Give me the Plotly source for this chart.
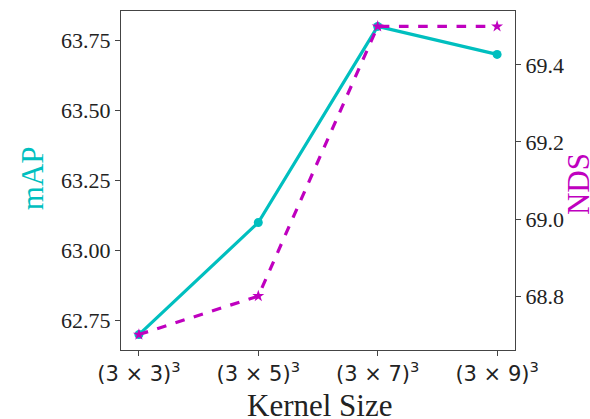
import plotly.graph_objects as go

categories = ["(3 × 3)<sup>3</sup>", "(3 × 5)<sup>3</sup>", "(3 × 7)<sup>3</sup>", "(3 × 9)<sup>3</sup>"]
map_values = [62.7, 63.1, 63.8, 63.7]
nds_values = [68.7, 68.8, 69.5, 69.5]
map_ticks = [62.75, 63.00, 63.25, 63.50, 63.75]
nds_ticks = [68.8, 69.0, 69.2, 69.4]

CYAN = "#00BFBF"
MAGENTA = "#BF00BF"
xs = list(range(len(categories)))

fig = go.Figure()
fig.add_trace(go.Scatter(
    x=xs, y=map_values, mode="lines+markers", name="mAP",
    line=dict(color=CYAN, width=3.2),
    marker=dict(symbol="circle", size=9, color=CYAN),
    yaxis="y", cliponaxis=False,
))
fig.add_trace(go.Scatter(
    x=xs, y=nds_values, mode="lines+markers", name="NDS",
    line=dict(color=MAGENTA, width=3.2, dash="dash"),
    marker=dict(symbol="star", size=9, color=MAGENTA),
    yaxis="y2", cliponaxis=False,
))

axis_common = dict(
    showgrid=False, zeroline=False, showline=True, linecolor="#444444", linewidth=1.2,
    ticks="outside", ticklen=5, tickcolor="#444444", tickwidth=1.2,
)

fig.update_layout(
    width=590, height=419,
    margin=dict(l=121, r=75, t=11, b=69),
    paper_bgcolor="white", plot_bgcolor="white",
    showlegend=False,
    xaxis=dict(
        **axis_common, mirror=True,
        range=[-0.15, 3.15],
        tickmode="array", tickvals=xs, ticktext=categories,
        tickfont=dict(family="DejaVu Sans", size=21, color="#222222"),
    ),
    yaxis=dict(
        **axis_common,
        range=[62.645, 63.855],
        tickmode="array", tickvals=map_ticks,
        ticktext=[f"{v:.2f}" for v in map_ticks],
        tickfont=dict(family="Liberation Serif", size=22, color="#222222"),
    ),
    yaxis2=dict(
        **axis_common,
        overlaying="y", side="right",
        range=[68.66, 69.54],
        tickmode="array", tickvals=nds_ticks,
        ticktext=[f"{v:.1f}" for v in nds_ticks],
        tickfont=dict(family="Liberation Serif", size=22, color="#222222"),
    ),
    annotations=[
        dict(text="Kernel Size", xref="paper", yref="paper", x=0.503, y=-0.165,
             xanchor="center", yanchor="middle", showarrow=False,
             font=dict(family="Liberation Serif", size=31, color="#222222")),
        dict(text="mAP", xref="paper", yref="paper", x=-0.225, y=0.508,
             xanchor="center", yanchor="middle", showarrow=False, textangle=-90,
             font=dict(family="Liberation Serif", size=31, color=CYAN)),
        dict(text="NDS", xref="paper", yref="paper", x=1.163, y=0.49,
             xanchor="center", yanchor="middle", showarrow=False, textangle=-90,
             font=dict(family="Liberation Serif", size=31, color=MAGENTA)),
    ],
)

fig.write_html("out.html")
